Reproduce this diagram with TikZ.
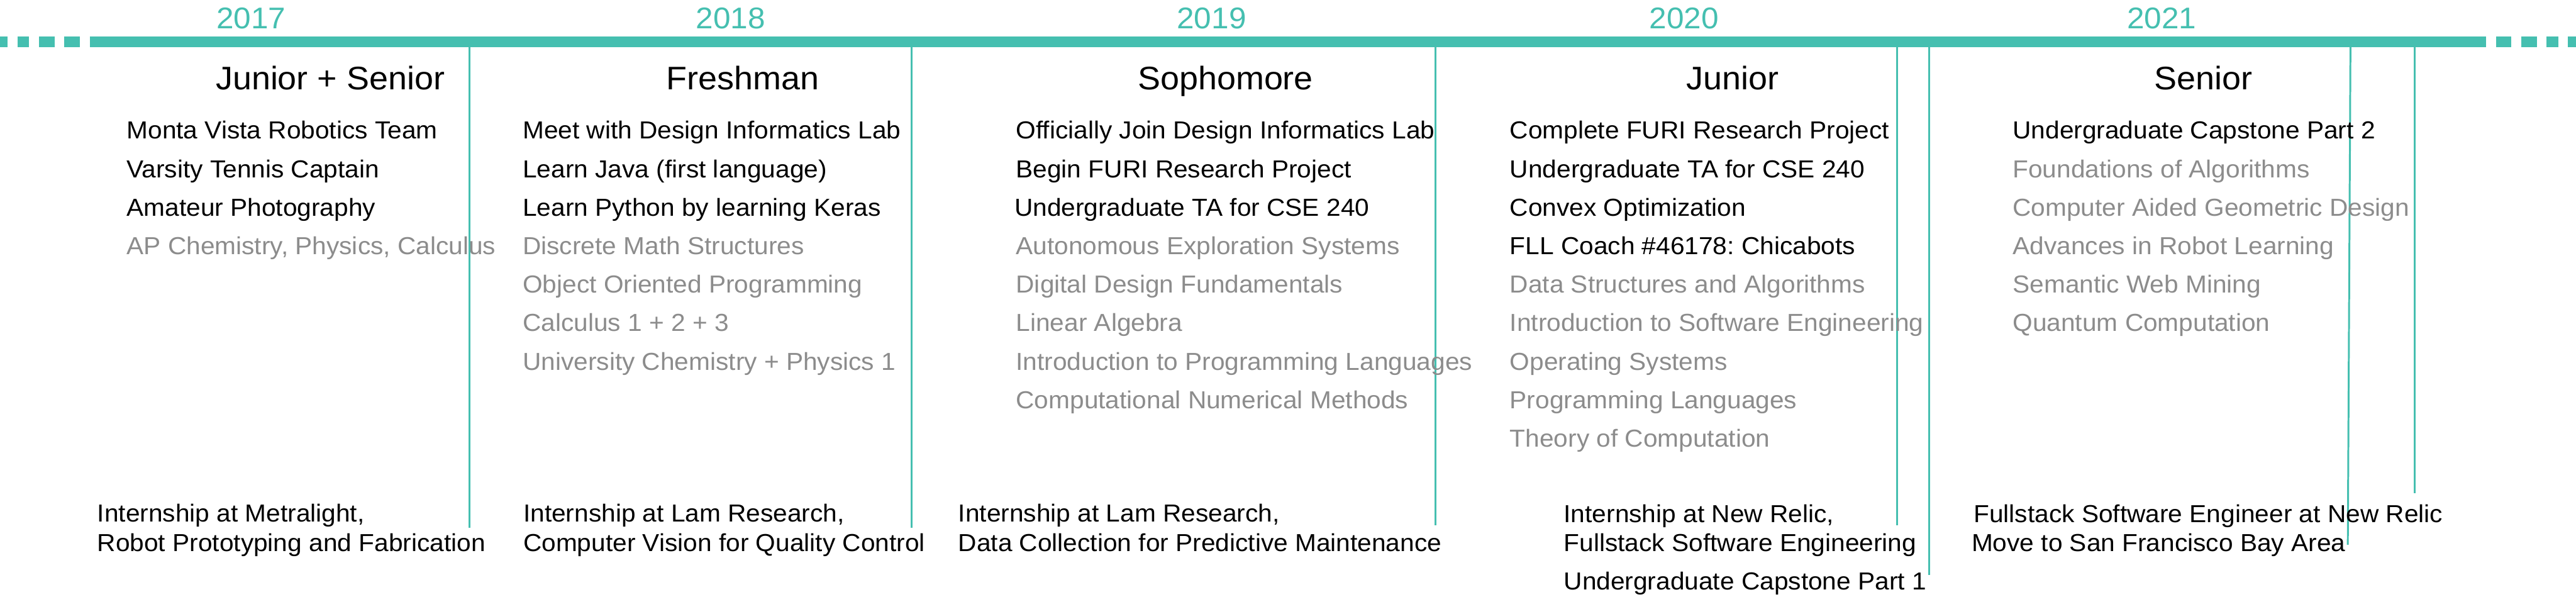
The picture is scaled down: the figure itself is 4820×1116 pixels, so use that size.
\documentclass[tikz,border=0pt]{standalone}
\usepackage{xcolor}
\usepackage{fontspec}
\setmainfont{Liberation Sans}[FakeStretch=1.04]
\frenchspacing
\usepackage{tikz}
\usetikzlibrary{positioning}
\definecolor{myteal}{RGB}{69,191,176}
\definecolor{mygray}{RGB}{140,140,140}
\definecolor{mydark}{RGB}{0,0,0}
\tikzset{
  barline/.style={draw=myteal, line width=20pt},
  tick/.style={draw=myteal, line width=3.5pt},
  yearlbl/.style={anchor=base, inner sep=0pt, text=myteal,
    font=\fontsize{56}{60}\selectfont},
  headlbl/.style={anchor=base, inner sep=0pt, text=mydark,
    font=\fontsize{61}{70}\selectfont},
  itemlbl/.style={anchor=base west, inner sep=0pt, text=mydark,
    font=\fontsize{46}{55}\selectfont},
  courselbl/.style={itemlbl, text=mygray}
}

\begin{document}
\begin{tikzpicture}[x=1pt, y=-1pt]
  \useasboundingbox (0,0) rectangle (4820,1116);

  % Timeline bar
  \coordinate (barL) at (168,78);
  \coordinate (barR) at (4652,78);
  \draw[barline] (barL) -- (barR);
  \foreach \a/\b in {0/14, 33/54, 73/102, 120/149, 4670/4699, 4718/4747, 4765/4787, 4805/4820}
    \fill[myteal] (\a,68) rectangle (\b,88);

  % Years
  \node[yearlbl] (y2017) at (470,53) {2017};
  \node[yearlbl] (y2018) at (1367,53) {2018};
  \node[yearlbl] (y2019) at (2267,53) {2019};
  \node[yearlbl] (y2020) at (3151,53) {2020};
  \node[yearlbl] (y2021) at (4045,53) {2021};

  % Ticks
  \coordinate (t1a) at (878,78);  \coordinate (t1b) at (878,987);
  \coordinate (t2a) at (1706,78); \coordinate (t2b) at (1706,987);
  \coordinate (t3a) at (2686,78); \coordinate (t3b) at (2686,983);
  \coordinate (t4a) at (3550,78); \coordinate (t4b) at (3550,982);
  \coordinate (t5a) at (3610,78); \coordinate (t5b) at (3610,1075);
  \coordinate (t6a) at (4398,78); \coordinate (t6b) at (4393,1019);
  \coordinate (t7a) at (4518,78); \coordinate (t7b) at (4518,923);
  \draw[tick] (t1a) -- (t1b);
  \draw[tick] (t2a) -- (t2b);
  \draw[tick] (t3a) -- (t3b);
  \draw[tick] (t4a) -- (t4b);
  \draw[tick] (t5a) -- (t5b);
  \draw[tick] (t6a) -- (t6b);
  \draw[tick] (t7a) -- (t7b);

  % High school
  \node[headlbl] (hsHead) at (618,168) {Junior + Senior};
  \node[itemlbl] (hsRobotics) at (237,260) {Monta Vista Robotics Team};
  \node[itemlbl] (hsTennis) at (237,332) {Varsity Tennis Captain};
  \node[itemlbl] (hsPhoto) at (237,404) {Amateur Photography};
  \node[courselbl] (hsAP) at (237,476) {AP Chemistry, Physics, Calculus};
  \node[itemlbl] (hsJob) at (182,976) {Internship at Metralight,};
  \node[itemlbl] (hsJobB) at (182,1032) {Robot Prototyping and Fabrication};

  % Freshman
  \node[headlbl] (frHead) at (1390,168) {Freshman};
  \node[itemlbl] (frLab) at (978,260) {Meet with Design Informatics Lab};
  \node[itemlbl] (frJava) at (978,332) {Learn Java (first language)};
  \node[itemlbl] (frPython) at (978,404) {Learn Python by learning Keras};
  \node[courselbl] (frDiscrete) at (978,476) {Discrete Math Structures};
  \node[courselbl] (frOOP) at (978,548) {Object Oriented Programming};
  \node[courselbl] (frCalc) at (978,620) {Calculus 1 + 2 + 3};
  \node[courselbl] (frChem) at (978,692) {University Chemistry + Physics 1};
  \node[itemlbl] (frJob) at (979,976) {Internship at Lam Research,};
  \node[itemlbl] (frJobB) at (979,1032) {Computer Vision for Quality Control};

  % Sophomore
  \node[headlbl] (soHead) at (2293,168) {Sophomore};
  \node[itemlbl] (soLab) at (1901,260) {Officially Join Design Informatics Lab};
  \node[itemlbl] (soFuri) at (1901,332) {Begin FURI Research Project};
  \node[itemlbl] (soTA) at (1898,404) {Undergraduate TA for CSE 240};
  \node[courselbl] (soAuto) at (1901,476) {Autonomous Exploration Systems};
  \node[courselbl] (soDigital) at (1901,548) {Digital Design Fundamentals};
  \node[courselbl] (soLinAlg) at (1901,620) {Linear Algebra};
  \node[courselbl] (soIntroPL) at (1901,692) {Introduction to Programming Languages};
  \node[courselbl] (soNumeric) at (1901,764) {Computational Numerical Methods};
  \node[itemlbl] (soJob) at (1793,976) {Internship at Lam Research,};
  \node[itemlbl] (soJobB) at (1793,1032) {Data Collection for Predictive Maintenance};

  % Junior
  \node[headlbl] (juHead) at (3242,168) {Junior};
  \node[itemlbl] (juFuri) at (2825,260) {Complete FURI Research Project};
  \node[itemlbl] (juTA) at (2825,332) {Undergraduate TA for CSE 240};
  \node[itemlbl] (juConvex) at (2825,404) {Convex Optimization};
  \node[itemlbl] (juFLL) at (2825,476) {FLL Coach \#46178: Chicabots};
  \node[courselbl] (juDSA) at (2825,548) {Data Structures and Algorithms};
  \node[courselbl] (juSE) at (2825,620) {Introduction to Software Engineering};
  \node[courselbl] (juOS) at (2825,692) {Operating Systems};
  \node[courselbl] (juPL) at (2825,764) {Programming Languages};
  \node[courselbl] (juTheory) at (2825,836) {Theory of Computation};
  \node[itemlbl] (juJob) at (2926,977) {Internship at New Relic,};
  \node[itemlbl] (juJobB) at (2926,1032) {Fullstack Software Engineering};
  \node[itemlbl] (juCapstone) at (2926,1103) {Undergraduate Capstone Part 1};

  % Senior
  \node[headlbl] (seHead) at (4123,168) {Senior};
  \node[itemlbl] (seCapstone) at (3766,260) {Undergraduate Capstone Part 2};
  \node[courselbl] (seAlgo) at (3766,332) {Foundations of Algorithms};
  \node[courselbl] (seCAGD) at (3766,404) {Computer Aided Geometric Design};
  \node[courselbl] (seRobot) at (3766,476) {Advances in Robot Learning};
  \node[courselbl] (seWeb) at (3766,548) {Semantic Web Mining};
  \node[courselbl] (seQuantum) at (3766,620) {Quantum Computation};
  \node[itemlbl] (seJob) at (3693,977) {Fullstack Software Engineer at New Relic};
  \node[itemlbl] (seMove) at (3689,1032) {Move to San Francisco Bay Area};
\end{tikzpicture}
\end{document}
